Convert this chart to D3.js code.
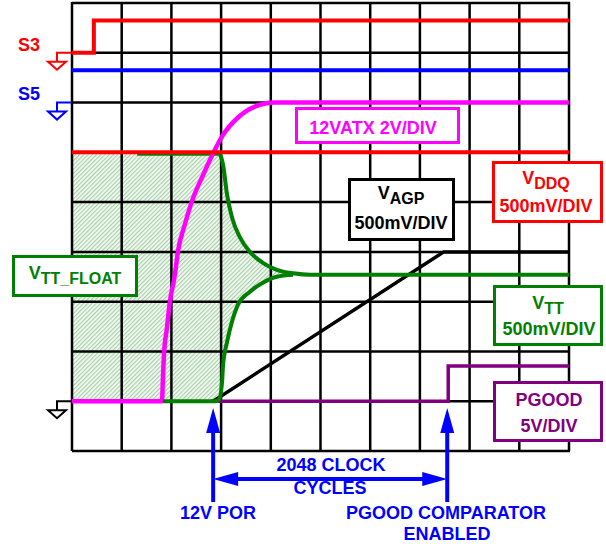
<!DOCTYPE html>
<html>
<head>
<meta charset="utf-8">
<script src="https://cdn.jsdelivr.net/npm/d3@7"></script>
<style>
  body { margin: 0; background: #fff; }
  text { font-family: "Liberation Sans", Arial, sans-serif; font-weight: bold; }
</style>
</head>
<body>
<div id="chart"></div>
<script>
// scope traces, in divisions (x: 0-10, y: 0-9 from the bottom)
var s3 = [[0, 8], [0.44, 8], [0.44, 8.65], [10, 8.65]];
var s5 = [[0, 7.65], [10, 7.65]];
var vddq = [[0, 6], [10, 6]];
var atx12 = [[0, 1], [1.81, 1], [1.83, 1.47], [1.85, 1.93], [1.91, 2.47], [1.97, 3.0], [2.07, 3.54],
             [2.13, 4.0], [2.27, 4.55], [2.41, 5.01], [2.64, 5.55], [2.88, 6.06], [3.02, 6.32],
             [3.34, 6.7], [3.68, 6.92], [4.08, 7.0], [10, 7.0]];
var vttUpper = [[1.31, 5.97], [2.98, 5.97], [3.04, 5.75], [3.12, 5.15], [3.22, 4.69], [3.38, 4.29],
                [3.58, 4.0], [3.84, 3.78], [4.12, 3.64], [4.45, 3.57], [4.79, 3.54], [10, 3.54]];
var vttLower = [[1.83, 1], [2.88, 1], [2.96, 1.04], [3.02, 1.39], [3.04, 1.73], [3.12, 2.19],
                [3.22, 2.6], [3.34, 2.94], [3.58, 3.2], [3.84, 3.38], [4.12, 3.5], [4.45, 3.54]];
var vagp = [[2.8, 1], [2.84, 1], [7.48, 4.0], [10, 4.0]];
var pgood = [[2.94, 1], [7.57, 1], [7.57, 1.71], [10, 1.71]];
var groundLevels = [8, 7, 1];
var porX = 2.84;
var pgoodX = 7.55;

var width = 606, height = 544;

var x = d3.scaleLinear().domain([0, 10]).range([72, 569]);
var y = d3.scaleLinear().domain([0, 9]).range([451, 3]);

var svg = d3.select("#chart").append("svg")
    .attr("width", width)
    .attr("height", height);

var defs = svg.append("defs");
var pat = defs.append("pattern")
    .attr("id", "hatch")
    .attr("patternUnits", "userSpaceOnUse")
    .attr("width", 3)
    .attr("height", 3)
    .attr("patternTransform", "rotate(45)");
pat.append("rect").attr("width", 3).attr("height", 3).attr("fill", "#f6faf6");
pat.append("line").attr("x1", 0.6).attr("y1", 0).attr("x2", 0.6).attr("y2", 3)
    .attr("stroke", "#a6d0a6").attr("stroke-width", 1.2);

// V_TT float area (hatched)
var floatArea = [[0, 6], [2.98, 6]]
    .concat(vttUpper.slice(2, 10))
    .concat(vttLower.slice(2).reverse())
    .concat([[2.88, 1], [0, 1]]);

var lineLin = d3.line().x(d => x(d[0])).y(d => y(d[1]));
var lineCurve = d3.line().x(d => x(d[0])).y(d => y(d[1])).curve(d3.curveMonotoneX);

svg.append("path")
    .attr("d", lineLin(floatArea) + "Z")
    .attr("fill", "url(#hatch)");

// grid
var grid = svg.append("g").attr("stroke", "#000").attr("stroke-width", 2.5);
grid.selectAll(".v").data(d3.range(0, 11)).join("line")
    .attr("x1", d => x(d)).attr("x2", d => x(d))
    .attr("y1", y(9) - 1).attr("y2", y(0));
grid.selectAll(".h").data(d3.range(0, 10)).join("line")
    .attr("x1", x(0)).attr("x2", x(10) + 1)
    .attr("y1", d => y(d)).attr("y2", d => y(d));

// ground reference markers
var gColors = ["#ff0000", "#0000ff", "#000000"];
groundLevels.forEach(function(l, i) {
    var x0 = x(0), y0 = y(l);
    svg.append("path")
        .attr("d", "M" + x0 + "," + y0 + "H" + (x0 - 15) + "V" + (y0 + 9))
        .attr("fill", "none").attr("stroke", gColors[i]).attr("stroke-width", 2);
    svg.append("path")
        .attr("d", "M" + (x0 - 24) + "," + (y0 + 9) + "H" + (x0 - 6) + "L" + (x0 - 15) + "," + (y0 + 17) + "Z")
        .attr("fill", "#fff").attr("stroke", gColors[i]).attr("stroke-width", 2);
});

function trace(data, color, w, curved) {
    svg.append("path")
        .attr("d", (curved ? lineCurve : lineLin)(data))
        .attr("fill", "none")
        .attr("stroke", color)
        .attr("stroke-width", w)
        .attr("stroke-linejoin", "miter");
}

trace(vttUpper.slice(0, 2), "#008000", 4, false);
trace(atx12, "#ff00ff", 4.5, true);
trace(vddq, "#ff0000", 4, false);
trace(s3, "#ff0000", 4, false);
trace(s5, "#0000ff", 4, false);
trace(pgood, "#800080", 3.5, false);
trace(vagp, "#000000", 3.5, false);
trace(vttUpper.slice(1), "#008000", 4, true);
trace(vttLower, "#008000", 4, true);

// label boxes
var boxes = [
    {x: 295, y: 107, w: 165, h: 37, c: "#ff00ff"},
    {x: 348, y: 178, w: 107, h: 63, c: "#000000"},
    {x: 492, y: 161, w: 111, h: 62, c: "#ff0000"},
    {x: 12, y: 255, w: 126, h: 42, c: "#008000"},
    {x: 493, y: 285, w: 110, h: 61, c: "#008000"},
    {x: 493, y: 381, w: 110, h: 61, c: "#800080"}
];
svg.selectAll(".box").data(boxes).join("rect")
    .attr("x", d => d.x + 1.5).attr("y", d => d.y + 1.5)
    .attr("width", d => d.w - 3).attr("height", d => d.h - 3)
    .attr("fill", "#fff").attr("stroke", d => d.c).attr("stroke-width", 3);

function label(tx, ty, str, color, anchor) {
    return svg.append("text").attr("x", tx).attr("y", ty)
        .attr("fill", color).attr("font-size", 18)
        .attr("text-anchor", anchor || "middle").text(str);
}
function subLabel(tx, ty, main, sub, color) {
    var t = svg.append("text").attr("x", tx).attr("y", ty)
        .attr("fill", color).attr("font-size", 18).attr("text-anchor", "middle");
    t.append("tspan").text(main);
    t.append("tspan").attr("dy", 5).attr("font-size", 16).text(sub);
    return t;
}

label(18, 51, "S3", "#ff0000", "start");
label(18, 100, "S5", "#0000ff", "start");
label(373, 134, "12VATX 2V/DIV", "#ff00ff");
subLabel(401, 199, "V", "AGP", "#000000");
label(401, 229, "500mV/DIV", "#000000");
subLabel(546, 184, "V", "DDQ", "#ff0000");
label(546, 212, "500mV/DIV", "#ff0000");
subLabel(75, 279, "V", "TT_FLOAT", "#008000");
subLabel(548, 309, "V", "TT", "#008000");
label(549, 335, "500mV/DIV", "#008000");
label(549, 406, "PGOOD", "#800080");
label(549, 432, "5V/DIV", "#800080");

// timing arrows
var blue = "#0000ff";
[porX, pgoodX].forEach(function(v) {
    var ax = x(v);
    svg.append("line").attr("x1", ax).attr("x2", ax).attr("y1", 502).attr("y2", 428)
        .attr("stroke", blue).attr("stroke-width", 4);
    svg.append("path")
        .attr("d", "M" + ax + ",408L" + (ax + 7) + ",433L" + (ax - 7) + ",433Z")
        .attr("fill", blue);
});
var ax1 = x(porX), ax2 = x(pgoodX);
svg.append("line").attr("x1", ax1 + 20).attr("x2", ax2 - 20).attr("y1", 479).attr("y2", 479)
    .attr("stroke", blue).attr("stroke-width", 4);
svg.append("path")
    .attr("d", "M" + ax1 + ",479L" + (ax1 + 25) + ",472L" + (ax1 + 25) + ",486Z")
    .attr("fill", blue);
svg.append("path")
    .attr("d", "M" + ax2 + ",479L" + (ax2 - 25) + ",472L" + (ax2 - 25) + ",486Z")
    .attr("fill", blue);

label(331, 471, "2048 CLOCK", blue);
label(330, 494, "CYCLES", blue);
label(218, 519, "12V POR", blue);
label(446, 519, "PGOOD COMPARATOR", blue);
label(447, 540, "ENABLED", blue);
</script>
</body>
</html>
